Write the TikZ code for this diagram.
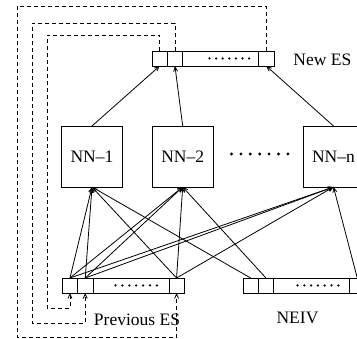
\documentclass[tikz,border=0pt]{standalone}
\usepackage{fontspec}
\setmainfont{Liberation Serif}
\usetikzlibrary{arrows.meta}
\begin{document}
\begin{tikzpicture}[x=1pt,y=-1pt,
  line width=0.8pt,
  cell/.style={draw,inner sep=0pt,outer sep=0pt,minimum height=15pt,minimum width=15.3pt,anchor=west},
  bigcell/.style={cell,minimum width=76pt},
  nnbox/.style={draw,inner sep=0pt,outer sep=0pt,minimum width=61pt,minimum height=61pt,font=\fontsize{17.5}{20}\selectfont},
  lbl/.style={inner sep=0pt,font=\fontsize{17.5}{20}\selectfont},
  arr/.style={-{Straight Barb[length=4.5pt,width=4pt]}},
  dashline/.style={dash pattern=on 4pt off 3pt,-{Straight Barb[length=4.5pt,width=4pt]}}
]
\useasboundingbox (0,0) rectangle (357,339);
% New ES bar
\node[cell] (n1) at (152,58.5) {};
\node[cell] (n2) at (n1.east) {};
\node[bigcell] (nm) at (n2.east) {};
\node[cell] (n4) at (nm.east) {};
% Previous ES bar
\node[cell] (p1) at (62.3,285.5) {};
\node[cell] (p2) at (p1.east) {};
\node[bigcell] (pm) at (p2.east) {};
\node[cell] (p4) at (pm.east) {};
% NEIV bar
\node[cell] (e1) at (243,285.5) {};
\node[cell] (e2) at (e1.east) {};
\node[bigcell] (em) at (e2.east) {};
\node[cell] (e4) at (em.east) {};
% dots in bars
\foreach \i in {0,...,6} {
  \fill (209.5+\i*6.6,58.5) circle (1.25pt);
  \fill (115.5+\i*6.9,285.5) circle (1.25pt);
  \fill (297.5+\i*6.8,285.5) circle (1.25pt);
  \fill (231.5+\i*9.4,154) circle (1.6pt);
}
% NN boxes
\node[nnbox] (nn1) at (92,156.5) {NN--1};
\node[nnbox] (nn2) at (182.7,156.5) {NN--2};
\node[nnbox] (nnn) at (333.5,156.5) {NN--n};
% labels
\node[lbl,anchor=west] (lnew) at (293,59.5) {New ES};
\node[lbl] (lprev) at (137,319.5) {Previous ES};
\node[lbl] (lneiv) at (297.5,318) {NEIV};
% outputs
\draw[arr] (nn1.north) -- (n1.south);
\draw[arr] (nn2.north) -- (n2.south);
\draw[arr] (nnn.north) -- (n4.south);
% inputs
\foreach \s in {p1,p2,p4} {
  \foreach \t in {nn1,nn2,nnn} {
    \draw[arr] (\s.north) -- (\t.south);
  }
}
\draw[arr] (e1.north) -- (nn1.south);
\draw[arr] (e2.north) -- (nn2.south);
\draw[arr] (e4.north) -- (nnn.south);
% feedback
\draw[dashline] (n1.north) |- (47,35) -- (47,308) -| (p1.south);
\draw[dashline] (n2.north) |- (32,23) -- (32,323) -| (p2.south);
\draw[dashline] (n4.north) |- (17,6) -- (17,337) -| (p4.south);
\end{tikzpicture}
\end{document}
